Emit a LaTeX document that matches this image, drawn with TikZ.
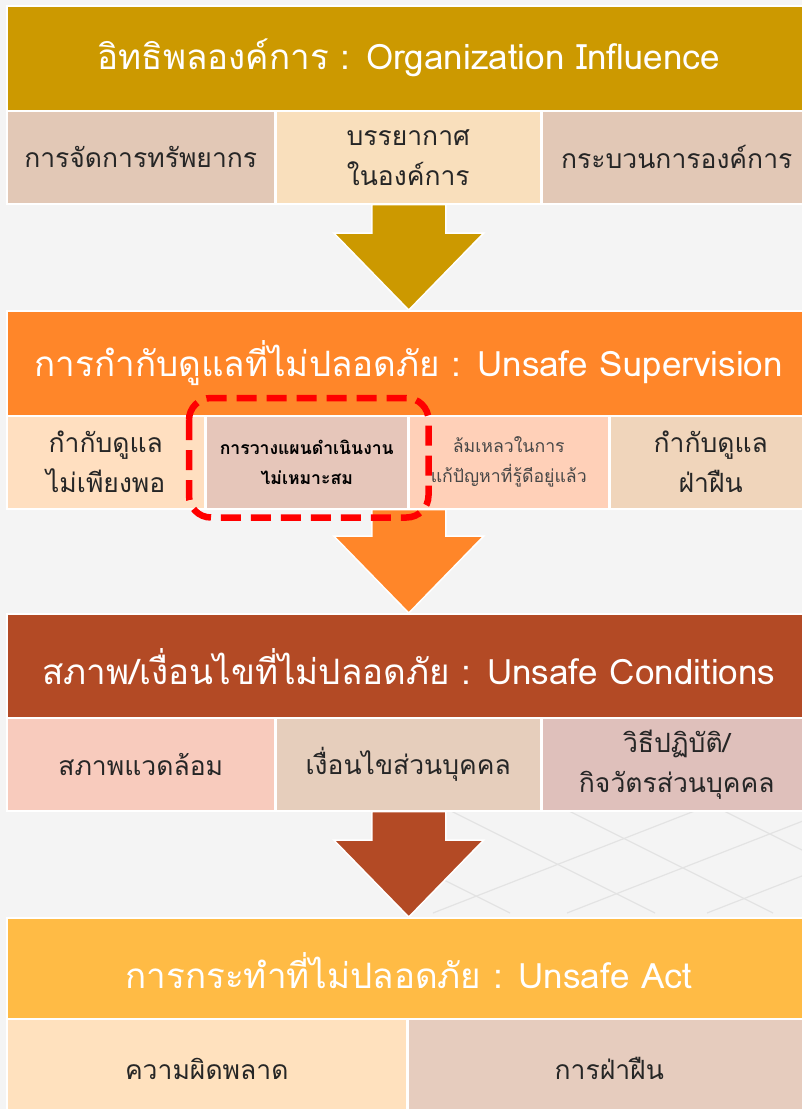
\documentclass[tikz,border=0pt]{standalone}
\usepackage{fontspec}
\newfontfamily\thaifont[Script=Thai]{Loma}
\usetikzlibrary{calc}

\definecolor{bgc}{HTML}{F4F4F4}
\definecolor{gridc}{HTML}{E3E3E3}
\definecolor{goldc}{HTML}{CC9900}
\definecolor{orangec}{HTML}{FF8629}
\definecolor{rustc}{HTML}{B34A25}
\definecolor{yellowc}{HTML}{FFBB45}
\definecolor{oa}{HTML}{E2C8B6}
\definecolor{ob}{HTML}{F9DFBC}
\definecolor{sa}{HTML}{FFDFC0}
\definecolor{sb}{HTML}{E6C6BA}
\definecolor{sc}{HTML}{FFD0B8}
\definecolor{sd}{HTML}{F0D5BB}
\definecolor{ca}{HTML}{F8CBBD}
\definecolor{cb}{HTML}{E6CEBC}
\definecolor{cc}{HTML}{DFC0BB}
\definecolor{aa}{HTML}{FFE1BE}
\definecolor{ab}{HTML}{E6CCBE}

\newcommand\blockarrow[3]{%
\filldraw[fill=#1,draw=white,line width=1.5pt] ($(#2)+(-37,0)$) -- ($(#2)+(37,0)$)
-- ($(#3)+(37,-77)$) -- ($(#3)+(75,-77)$) -- (#3) -- ($(#3)+(-75,-77)$)
-- ($(#3)+(-37,-77)$) -- cycle;}

\begin{document}
\begin{tikzpicture}[x=1pt,y=-1pt,
headbox/.style={fill=#1,draw=white,line width=1.5pt,anchor=north west,
  minimum width=804pt,minimum height=105pt,inner sep=0pt,text=white,
  font=\thaifont\fontsize{35}{40}\selectfont},
subbox/.style={fill=#1,draw=white,line width=1.5pt,anchor=north west,
  minimum height=93pt,inner sep=0pt,align=center,text=black!85,
  font=\thaifont\fontsize{26.5}{40}\selectfont},
smalltext/.style={font=\thaifont\fontsize{17.7}{30}\selectfont},
boldtext/.style={font=\thaifont\bfseries\fontsize{17.6}{30}\selectfont,text=black}]
\clip (0,0) rectangle (802,1109);
\fill[bgc] (0,0) rectangle (802,1109);

\begin{scope}
\clip (420,810) rectangle (802,917);
\foreach \x in {433,567,707,847}
  \draw[gridc,line width=1.2pt] (\x,913) -- ++(400,-156);
\foreach \x in {510,655,773,928}
  \draw[gridc,line width=1.2pt] (\x,913) -- ++(-300,-150);
\end{scope}

\node[headbox=goldc] (h1) at (6,5) {อิทธิพลองค์การ : Organization Influence};
\node[subbox=oa,minimum width=268pt] (o1) at (6,110) {การจัดการทรัพยากร};
\node[subbox=ob,minimum width=265pt] (o2) at (275,110) {บรรยากาศ\\ในองค์การ};
\node[subbox=oa,minimum width=270pt] (o3) at (541,110) {กระบวนการองค์การ};

\node[headbox=orangec] (h2) at (6,310) {การกำกับดูแลที่ไม่ปลอดภัย : Unsafe Supervision};
\node[subbox=sa,minimum width=198pt] (s1) at (6,415) {กำกับดูแล\\ไม่เพียงพอ};
\node[subbox=sb,minimum width=202pt,boldtext] (s2) at (205,415) {การวางแผนดำเนินงาน\\ไม่เหมาะสม};
\node[subbox=sc,minimum width=200pt,smalltext,text=black!72] (s3) at (408,415) {ล้มเหลวในการ\\แก้ปัญหาที่รู้ดีอยู่แล้ว};
\node[subbox=sd,minimum width=202pt] (s4) at (609,415) {กำกับดูแล\\ฝ่าฝืน};

\node[headbox=rustc] (h3) at (6,613) {สภาพ/เงื่อนไขที่ไม่ปลอดภัย : Unsafe Conditions};
\node[subbox=ca,minimum width=268pt] (c1) at (6,717) {สภาพแวดล้อม};
\node[subbox=cb,minimum width=265pt] (c2) at (275,717) {เงื่อนไขส่วนบุคคล};
\node[subbox=cc,minimum width=270pt] (c3) at (541,717) {วิธีปฏิบัติ/\\กิจวัตรส่วนบุคคล};

\node[headbox=yellowc] (h4) at (6,917) {การกระทำที่ไม่ปลอดภัย : Unsafe Act};
\node[subbox=aa,minimum width=400pt,minimum height=100pt] (a1) at (6,1018) {ความผิดพลาด};
\node[subbox=ab,minimum width=403pt,minimum height=100pt] (a2) at (407,1018) {การฝ่าฝืน};

\coordinate (t1) at (h2.north |- o2.south);
\coordinate (t2) at (h3.north |- s2.south);
\coordinate (t3) at (h4.north |- c2.south);
\blockarrow{goldc}{t1}{h2.north}
\blockarrow{orangec}{t2}{h3.north}
\blockarrow{rustc}{t3}{h4.north}

\draw[red,line width=6.5pt,dash pattern=on 20pt off 10pt,rounded corners=22pt]
  ($(s2.north west)+(-16,-17)$) rectangle ($(s2.south east)+(20,8)$);
\end{tikzpicture}
\end{document}
